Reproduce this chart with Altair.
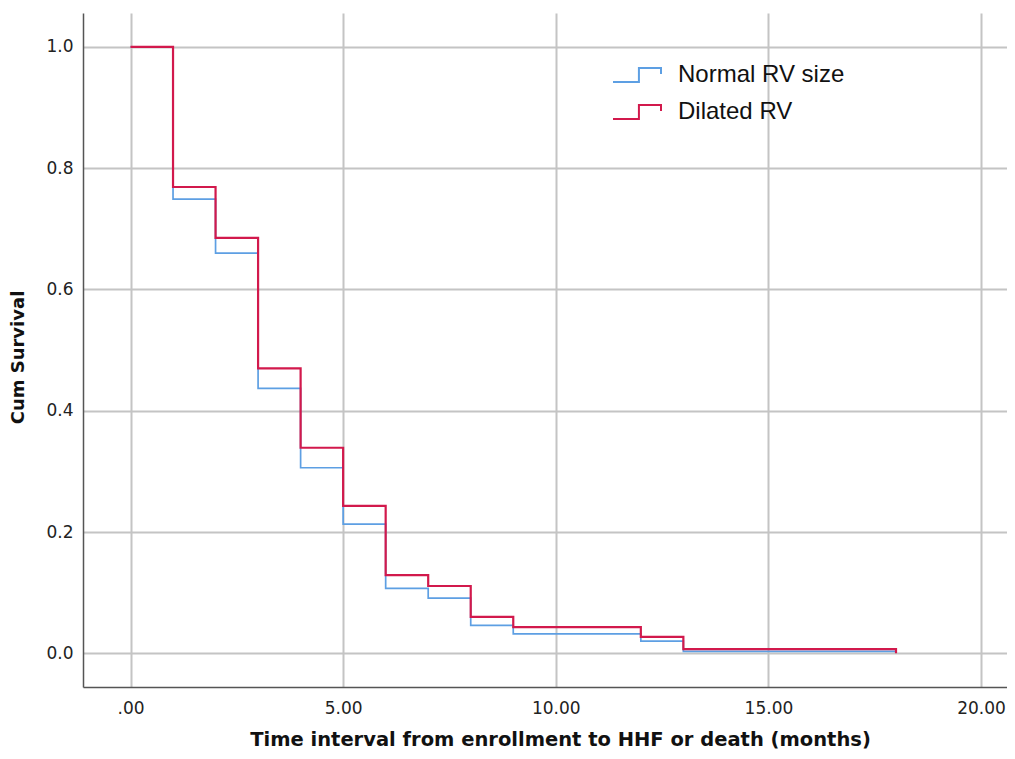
import altair as alt
import pandas as pd

# Kaplan-Meier step values
times = [0, 1, 2, 3, 4, 5, 6, 7, 8, 9, 12, 13, 18]
normal_rv = [1.0, 0.749, 0.660, 0.437, 0.306, 0.213, 0.107, 0.091, 0.046, 0.032, 0.020, 0.003, 0.003]
dilated_rv = [1.0, 0.769, 0.685, 0.470, 0.339, 0.243, 0.129, 0.111, 0.060, 0.043, 0.027, 0.007, 0.000]
series_names = ["Normal RV size", "Dilated RV"]
series_colors = ["#5d9fe3", "#d2194c"]
x_ticks = [0, 5, 10, 15, 20]
y_ticks = [0.0, 0.2, 0.4, 0.6, 0.8, 1.0]

df_normal = pd.DataFrame({"t": times, "s": normal_rv, "group": series_names[0]})
df_dilated = pd.DataFrame({"t": times, "s": dilated_rv, "group": series_names[1]})

FONT = "Liberation Sans"
TICKFONT = "DejaVu Sans"

x_enc = alt.X(
    "t:Q",
    scale=alt.Scale(domain=[-1.117, 20.61], nice=False, zero=False),
    axis=alt.Axis(
        values=x_ticks,
        labelExpr="datum.value == 0 ? '.00' : format(datum.value, '.2f')",
        title="Time interval from enrollment to HHF or death (months)",
        titleX=477, titleY=58, titleAlign="center", titleBaseline="alphabetic",
        titleFontSize=19.5, titleFontWeight="bold", titleFont=TICKFONT, titleColor="#111111",
        labelFontSize=17, labelFont=TICKFONT, labelColor="#222222", labelPadding=13,
        ticks=False, grid=True, gridColor="#c4c4c4", gridWidth=2,
        domainColor="#555555", domainWidth=1.5, labelFlush=False,
    ),
)
y_enc = alt.Y(
    "s:Q",
    scale=alt.Scale(domain=[-0.0556, 1.056], nice=False, zero=False),
    axis=alt.Axis(
        values=y_ticks, format=".1f",
        title="Cum Survival",
        titleX=-65, titleY=344, titleAngle=270, titleAlign="center", titleBaseline="middle",
        titleFontSize=18, titleFontWeight="bold", titleFont=TICKFONT, titleColor="#111111",
        labelFontSize=17, labelFont=TICKFONT, labelColor="#222222", labelPadding=10,
        ticks=False, grid=True, gridColor="#c4c4c4", gridWidth=2,
        domainColor="#555555", domainWidth=1.5, labelFlush=False,
    ),
)
color_enc = alt.Color(
    "group:N",
    scale=alt.Scale(domain=series_names, range=series_colors),
    legend=alt.Legend(
        title=None, orient="none", legendX=529, legendY=37,
        symbolType="M-1,0.29H0.08V-0.29H1V-0.04",
        symbolSize=2304, symbolStrokeWidth=2, symbolFillColor="transparent",
        labelFontSize=24, labelFont=FONT, labelColor="#111111", labelLimit=0,
        labelOffset=16, rowPadding=-40, padding=0,
    ),
)

blue = alt.Chart(df_normal).mark_line(interpolate="step-after", strokeWidth=1.7).encode(
    x=x_enc, y=y_enc, color=color_enc
)
red = alt.Chart(df_dilated).mark_line(interpolate="step-after", strokeWidth=2.2).encode(
    x=x_enc, y=y_enc, color=color_enc
)

chart = (
    alt.layer(blue, red)
    .properties(
        width=924, height=674,
        padding={"left": 75, "top": 5, "right": 0, "bottom": 64},
        autosize=alt.AutoSizeParams(type="none"),
        background="white",
    )
    .configure_view(stroke=None)
)

chart.save("out.html", embed_options={"renderer": "svg", "actions": False})
